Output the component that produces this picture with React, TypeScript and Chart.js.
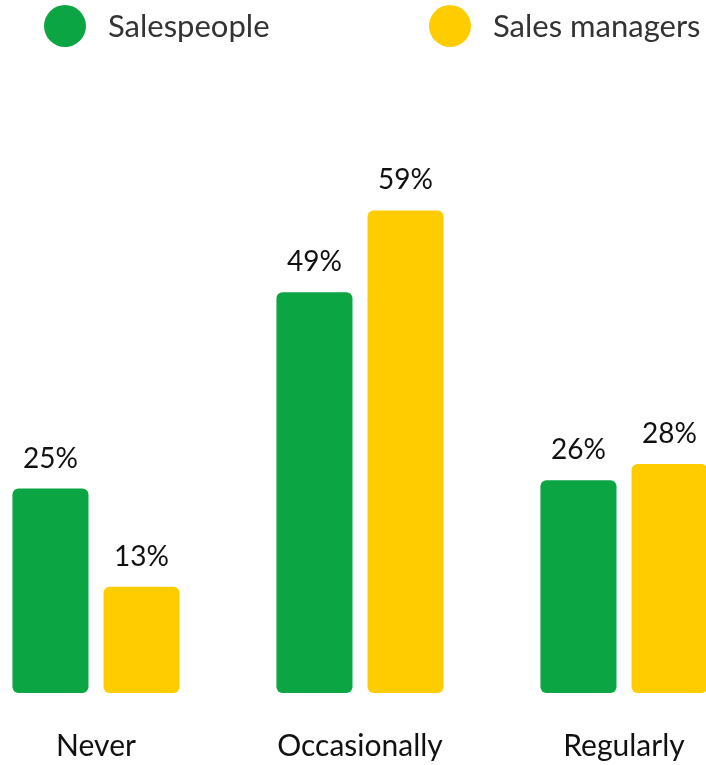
import React, { useEffect, useRef } from "react";
import { Chart, registerables } from "chart.js";

Chart.register(...registerables);

const categories = ["Never", "Occasionally", "Regularly"];
const seriesNames = ["Salespeople", "Sales managers"];
const salespeople = [25, 49, 26];
const salesManagers = [13, 59, 28];
const colors = ["#0BA543", "#FFCC00"];

const FONT = "Lato";
const OFFSET_X = 40; // canvas is shifted left by this many px inside the clipping wrapper

const valueLabels = {
  id: "valueLabels",
  afterDatasetsDraw(chart: any) {
    const ctx = chart.ctx;
    ctx.save();
    ctx.font = `28px ${FONT}`;
    ctx.fillStyle = "#111111";
    ctx.textAlign = "center";
    ctx.textBaseline = "alphabetic";
    chart.data.datasets.forEach((ds: any, i: number) => {
      const meta = chart.getDatasetMeta(i);
      meta.data.forEach((bar: any, j: number) => {
        ctx.fillText(`${ds.data[j]}%`, bar.x, bar.y - 21);
      });
    });
    ctx.restore();
  },
};

const customLegend = {
  id: "customLegend",
  afterDraw(chart: any) {
    const ctx = chart.ctx;
    ctx.save();
    const starts = [65 + OFFSET_X, 450 + OFFSET_X];
    chart.data.datasets.forEach((ds: any, i: number) => {
      const cx = starts[i];
      ctx.beginPath();
      ctx.fillStyle = ds.backgroundColor;
      ctx.arc(cx, 26, 21, 0, Math.PI * 2);
      ctx.fill();
      ctx.font = `31px ${FONT}`;
      ctx.fillStyle = "#333333";
      ctx.textAlign = "left";
      ctx.textBaseline = "middle";
      ctx.fillText(ds.label, cx + 43, 27);
    });
    ctx.restore();
  },
};

export default function App() {
  const ref = useRef<HTMLCanvasElement>(null);
  useEffect(() => {
    if (!ref.current) return;
    const chart = new Chart(ref.current, {
      type: "bar",
      data: {
        labels: categories,
        datasets: [
          {
            label: seriesNames[0],
            data: salespeople,
            backgroundColor: colors[0],
            borderRadius: 6,
            borderSkipped: false,
            categoryPercentage: 0.69,
            barPercentage: 0.835,
          },
          {
            label: seriesNames[1],
            data: salesManagers,
            backgroundColor: colors[1],
            borderRadius: 6,
            borderSkipped: false,
            categoryPercentage: 0.69,
            barPercentage: 0.835,
          },
        ],
      },
      options: {
        animation: false,
        responsive: false,
        maintainAspectRatio: false,
        layout: { padding: { top: 120.5, bottom: 21, left: 4, right: 4 } },
        plugins: { legend: { display: false }, tooltip: { enabled: false } },
        scales: {
          x: {
            grid: { display: false, drawTicks: false },
            border: { display: false },
            ticks: { font: { family: FONT, size: 30 }, color: "#111111", padding: 35 },
          },
          y: {
            display: false,
            min: 0,
            max: 70,
          },
        },
      },
      plugins: [valueLabels, customLegend],
    });
    return () => chart.destroy();
  }, []);
  return (
    <div style={{ position: "absolute", left: 0, top: 0, width: 706, height: 765, overflow: "hidden", background: "#fff" }}>
      <canvas ref={ref} width={800} height={820} style={{ position: "absolute", left: -OFFSET_X, top: 0, width: 800, height: 820 }} />
    </div>
  );
}
